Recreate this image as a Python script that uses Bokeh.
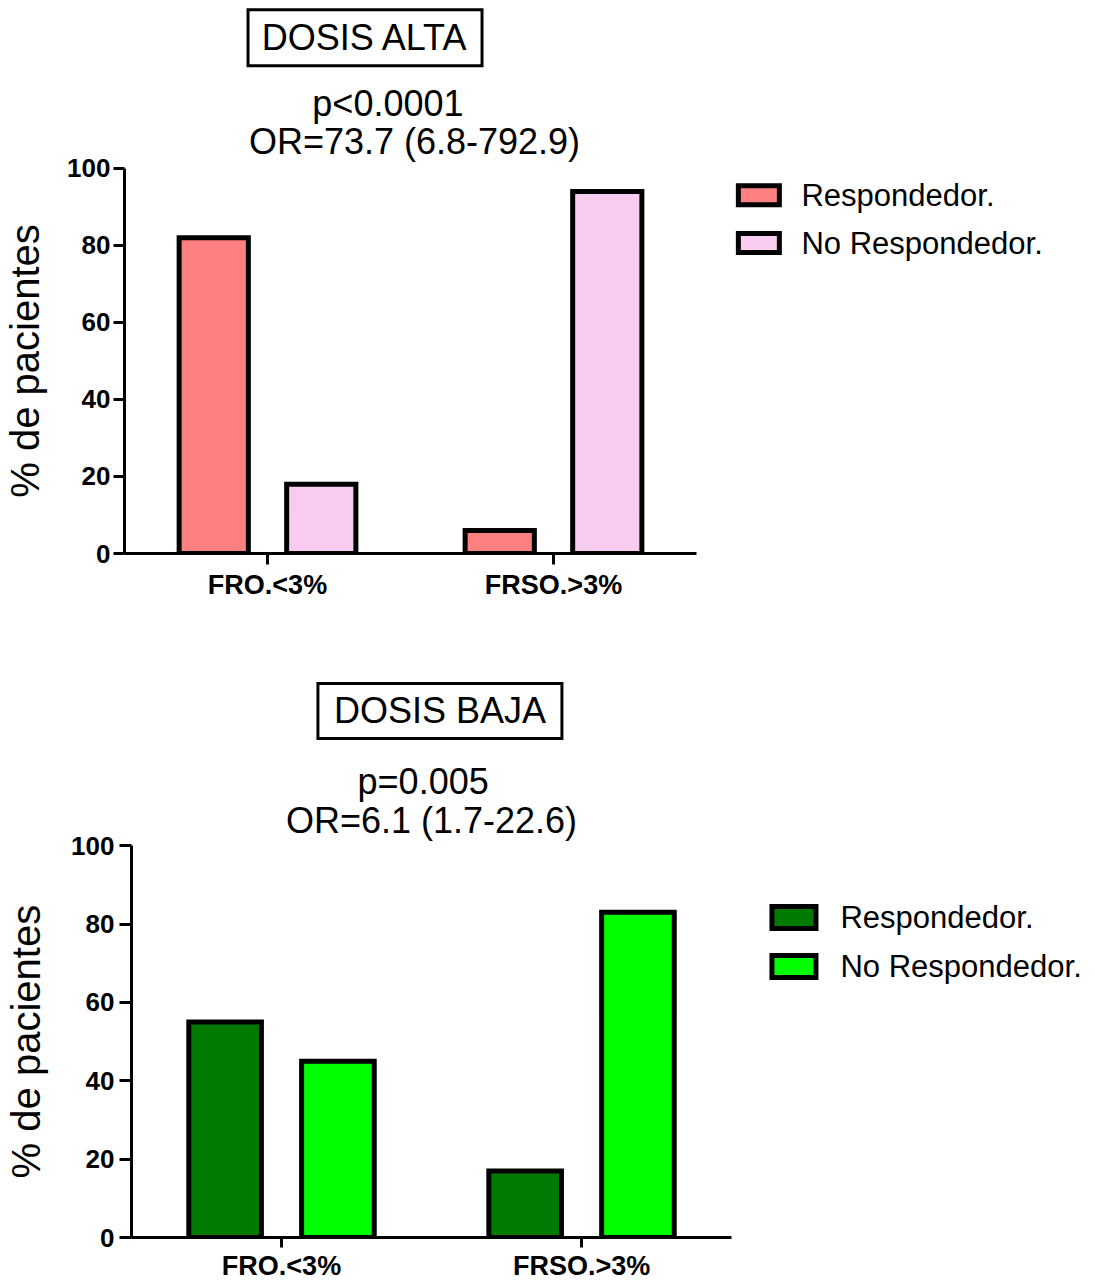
import math

from bokeh.plotting import figure
from bokeh.models import Range1d, FixedTicker
from bokeh.layouts import column, row
from bokeh.embed import file_html
from bokeh.resources import INLINE
from bokeh.core.properties import value

# ---- data -------------------------------------------------------------
categories = ["FRO.<3%", "FRSO.>3%"]
series = ["Respondedor.", "No Respondedor."]

alta_respondedor = [82, 6]
alta_no_respondedor = [18, 94]
baja_respondedor = [55, 17]
baja_no_respondedor = [45, 83]

alta_colors = ["#FF8080", "#F8CCEF"]
baja_colors = ["#007A00", "#00FF00"]

alta_title = "DOSIS ALTA"
alta_stats = ["p<0.0001", "OR=73.7 (6.8-792.9)"]
baja_title = "DOSIS BAJA"
baja_stats = ["p=0.005", "OR=6.1 (1.7-22.6)"]

y_label = "% de pacientes"
y_ticks = [0, 20, 40, 60, 80, 100]

FONT = "Liberation Sans"
BAR_W = 0.242
DODGE = 0.188
LABEL_W = 50


def make_chart(resp, noresp, colors, title, stats, height, left, bottom,
               x_end, y_end, title_box, stats_pos, legend, label_x,
               tick_out, tick_standoff, xtick_out, xtick_standoff):
    yr = Range1d(0, y_end)

    # narrow strip holding the vertical axis title, sharing the y scale
    lab = figure(width=LABEL_W, height=height, x_range=Range1d(0, LABEL_W),
                 y_range=yr, output_backend="svg", toolbar_location=None,
                 min_border_left=0, min_border_right=0, min_border_top=0,
                 min_border_bottom=bottom)
    lab.outline_line_color = None
    lab.grid.visible = False
    lab.axis.visible = False
    lab.text(x=[label_x], y=[(y_ticks[0] + y_ticks[-1]) / 2], text=[y_label],
             angle=math.pi / 2, text_align="center", text_baseline="middle",
             text_font=value(FONT), text_font_size=value("40px"),
             text_color="black")

    p = figure(width=1095 - LABEL_W, height=height,
               x_range=Range1d(-0.5, x_end), y_range=yr,
               output_backend="svg", toolbar_location=None,
               min_border_left=left - LABEL_W, min_border_right=0,
               min_border_top=0, min_border_bottom=bottom)
    p.outline_line_color = None
    p.grid.visible = False

    idx = list(range(len(categories)))
    p.vbar(x=[i - DODGE for i in idx], top=resp, width=BAR_W, bottom=0,
           fill_color=colors[0], line_color="black", line_width=5,
           line_join="miter")
    p.vbar(x=[i + DODGE for i in idx], top=noresp, width=BAR_W, bottom=0,
           fill_color=colors[1], line_color="black", line_width=5,
           line_join="miter")

    # value axis, drawn only over 0-100
    yax = p.yaxis[0]
    yax.ticker = FixedTicker(ticks=y_ticks)
    yax.bounds = (y_ticks[0], y_ticks[-1])
    yax.axis_line_width = 3
    yax.major_tick_line_width = 3
    yax.major_tick_out = tick_out
    yax.major_tick_in = 0
    yax.minor_tick_line_color = None
    yax.major_label_standoff = tick_standoff
    yax.major_label_text_font = FONT
    yax.major_label_text_font_style = "bold"
    yax.major_label_text_font_size = "26px"
    yax.major_label_text_color = "black"

    # category axis
    xax = p.xaxis[0]
    xax.ticker = FixedTicker(ticks=idx)
    xax.major_label_overrides = {i: c for i, c in zip(idx, categories)}
    xax.bounds = (-0.5, len(categories) - 0.5)
    xax.axis_line_width = 3
    xax.major_tick_line_width = 3
    xax.major_tick_out = xtick_out
    xax.major_tick_in = 0
    xax.minor_tick_line_color = None
    xax.major_label_standoff = xtick_standoff
    xax.major_label_text_font = FONT
    xax.major_label_text_font_style = "bold"
    xax.major_label_text_font_size = "27px"
    xax.major_label_text_color = "black"

    # boxed heading and statistics above the bars
    bx, by, bw, bh = title_box
    p.rect(x=[bx], y=[by], width=bw, height=bh, width_units="screen",
           height_units="screen", fill_color="white", line_color="black",
           line_width=3, line_join="miter")
    p.text(x=[bx], y=[by], text=[title], text_align="center",
           text_baseline="middle", text_font=value(FONT),
           text_font_size=value("36px"), text_color="black")
    p.text(x=[s[0] for s in stats_pos], y=[s[1] for s in stats_pos],
           text=stats, text_align="center", text_baseline="middle",
           text_font=value(FONT), text_font_size=value("36px"),
           text_color="black")

    # legend
    lx, ltx, ly, lw, lh = legend
    p.rect(x=[lx, lx], y=ly, width=lw, height=lh,
           width_units="screen", height_units="screen",
           fill_color=colors, line_color="black", line_width=5,
           line_join="miter")
    p.text(x=[ltx, ltx], y=ly, text=series,
           text_font=value(FONT), text_font_size=value("31px"),
           text_align="left", text_baseline="middle", text_color="black")
    return row(lab, p, spacing=0)


top_chart = make_chart(
    alta_respondedor, alta_no_respondedor, alta_colors, alta_title,
    alta_stats, height=620, left=124, bottom=67,
    x_end=2.895, y_end=143.6,
    title_box=(0.341, 133.9, 234, 56),
    stats_pos=[(0.421, 116.8), (0.514, 107.0)],
    legend=(1.718, 1.867, [93.0, 80.6], 41, 19),
    label_x=24, tick_out=11, tick_standoff=3,
    xtick_out=11, xtick_standoff=5)

bottom_chart = make_chart(
    baja_respondedor, baja_no_respondedor, baja_colors, baja_title,
    baja_stats, height=663, left=131, bottom=44,
    x_end=2.713, y_end=157.5,
    title_box=(0.528, 134.4, 244, 55),
    stats_pos=[(0.472, 116.4), (0.5, 106.5)],
    legend=(1.708, 1.863, [81.7, 69.2], 44, 22),
    label_x=25, tick_out=12, tick_standoff=5,
    xtick_out=10, xtick_standoff=3)

layout = column(top_chart, bottom_chart, spacing=0)
open("out.html", "w").write(file_html(layout, INLINE))
